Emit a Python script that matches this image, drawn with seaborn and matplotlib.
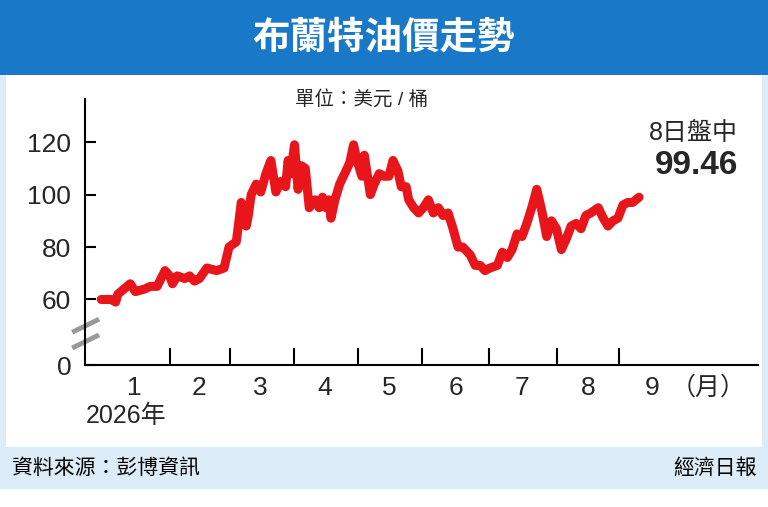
import matplotlib
matplotlib.use("Agg")
import matplotlib.pyplot as plt
import seaborn as sns
import pandas as pd
from matplotlib.patches import Rectangle

sns.set_theme(style="white")
plt.rcParams['font.family'] = ['Liberation Sans', 'Noto Sans CJK TC', 'DejaVu Sans']

days = [0,4.7,7,8,14,16.5,21,23.7,27,30.8,33,34.4,36.7,40.3,42.7,45,47.4,51,55.7,59.3,61.7,65.2,67.6,70,71,72.4,74.8,77,79.5,81.9,84.3,86.6,89,90.2,91.4,93.3,95,96.6,98.5,100.4,103.3,105.2,106.8,108.5,109.9,110.9,112.8,115.1,117.5,119.9,121.8,123.5,125.8,127,129.9,131.8,134.2,136.5,138.9,140.8,143.2,144.8,147.2,148.4,150.8,153.2,155.5,157.9,160.3,162.7,165,167.4,169.8,172.2,174.5,178.1,180.5,182.9,185.2,187.6,191.2,193.6,196,198.3,200.7,203.1,205.4,207.8,210.2,212.6,215,217.3,219.7,222.1,224.4,226.8,229.2,231.6,233.9,236.3,239.9,242.3,244.6,247,249.4,251.8,254.1,256.5,259.6]
price = [60,60,59,62,66,63,64,65,65,71,69,66,69,68,69,67,68,72,71,72,80,82,97,88,92,100,104,101,108,113,101,105,103,113,108,119,102,111,110,95,98,95,99,95,98,91,98,104,108,112,119,113,107,115,100,104,108,107,107,113,109,103,103,98,95,93,95,98,93,95,92,93,87,80,80,77,73,73,71,72,73,78,76,79,85,84,89,95,102,94,84,90,87,79,83,88,89,87,92,93,95,91,88,90,91,96,97,97,99]
month_ticks = [33,62,93,124,155,187,220,250]
month_label_pos = [16,47,77,108,139,171,203,235,266]
month_labels = ["1","2","3","4","5","6","7","8","9"]
ytick_vals = [35,60,80,100,120]
ytick_labels = ["0","60","80","100","120"]

df = pd.DataFrame({"day": days, "price": price})
fig = plt.figure(figsize=(7.68,5.07), dpi=100)
fig.patch.set_facecolor("white")
fig.add_artist(Rectangle((0,0.035),1,0.83,transform=fig.transFigure,facecolor="#dcecf8",edgecolor="none",zorder=-3))
fig.add_artist(Rectangle((0.008,0.118),0.984,0.75,transform=fig.transFigure,facecolor="white",edgecolor="none",zorder=-2))
fig.add_artist(Rectangle((0,0.852),1,0.148,transform=fig.transFigure,facecolor="#1a78c8",edgecolor="none",zorder=-1))
fig.text(0.5,0.925,"布蘭特油價走勢",ha="center",va="center",color="white",fontsize=27,fontweight="heavy")
fig.text(0.015,0.077,"資料來源：彭博資訊",ha="left",va="center",fontsize=15,color="black")
fig.text(0.985,0.077,"經濟日報",ha="right",va="center",fontsize=15,color="black")

ax = fig.add_axes([0.111,0.28,0.876,0.525])
sns.lineplot(data=df,x="day",y="price",ax=ax,color="#e8151b",linewidth=6.5,solid_capstyle="round",solid_joinstyle="round")
ax.set_xlim(-7.7,317)
ax.set_ylim(35,136.5)
ax.set_facecolor("none")
for s in ["top","right"]:
    ax.spines[s].set_visible(False)
ax.spines["left"].set_color("black"); ax.spines["bottom"].set_color("black")
ax.spines["left"].set_linewidth(1.5); ax.spines["bottom"].set_linewidth(1.5)
ax.set_yticks(ytick_vals, ytick_labels, fontsize=19)
ax.set_xticks(month_ticks, [""]*len(month_ticks))
ax.tick_params(axis="y",left=True,direction="in",length=8,width=1.5,color="black",pad=10)
ax.tick_params(axis="x",bottom=True,direction="in",length=12,width=1.5,color="black")
ax.set_xlabel(""); ax.set_ylabel("")
for p,l in zip(month_label_pos,month_labels):
    ax.text(p,31,l,ha="center",va="top",fontsize=19,clip_on=False)
ax.text(293,31,"（月）",ha="center",va="top",fontsize=18,clip_on=False)
ax.text(12,20,"2026年",ha="center",va="top",fontsize=18,clip_on=False)
ax.text(0.41,1.0,"單位：美元 / 桶",transform=ax.transAxes,ha="center",va="center",fontsize=14)
ax.text(0.97,0.87,"8日盤中",transform=ax.transAxes,ha="right",va="center",fontsize=18)
ax.text(0.97,0.75,"99.46",transform=ax.transAxes,ha="right",va="center",fontsize=24,fontweight="bold")
for yy in (44,50):
    ax.plot([-14,-1],[yy-2.5,yy+2.5],color="#999999",linewidth=3.5,clip_on=False,solid_capstyle="butt")
fig.savefig("out.png",dpi=100)
